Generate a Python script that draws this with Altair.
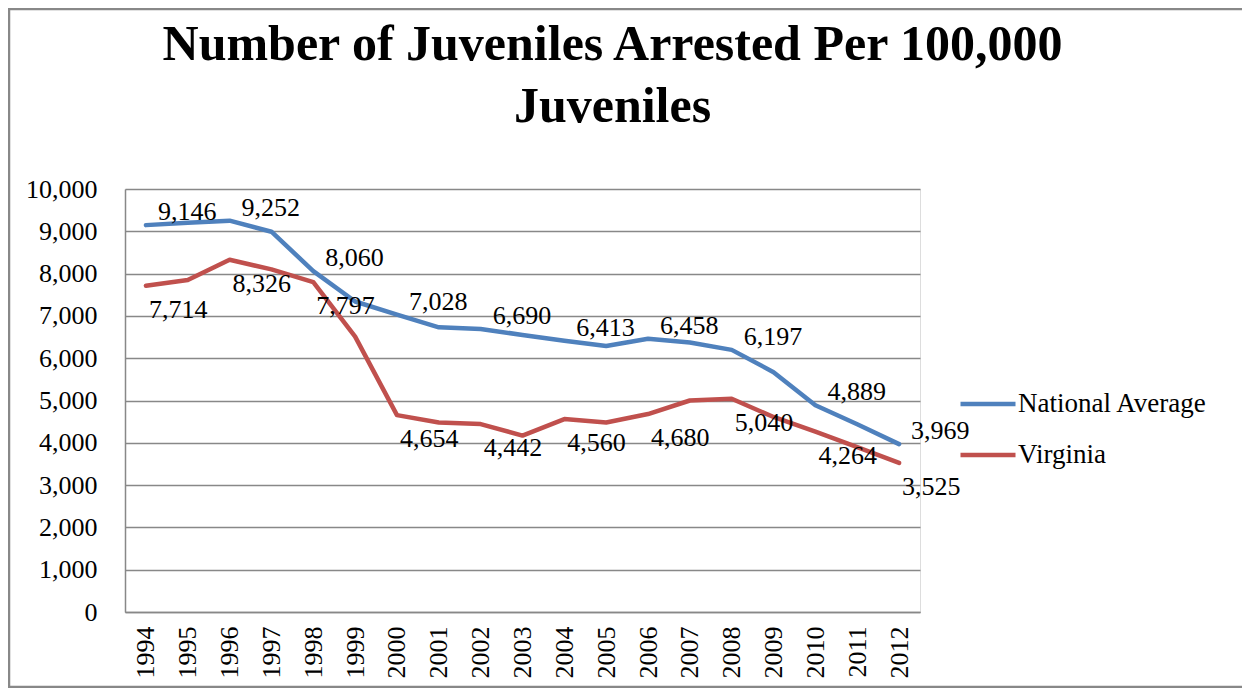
import altair as alt
import pandas as pd

years = [str(y) for y in range(1994, 2013)]
national = [9146, 9200, 9252, 8990, 8060, 7340, 7028, 6730, 6690, 6550,
            6413, 6290, 6458, 6370, 6197, 5670, 4889, 4440, 3969]
virginia = [7714, 7850, 8326, 8100, 7797, 6510, 4654, 4480, 4442, 4170,
            4560, 4480, 4680, 5000, 5040, 4610, 4264, 3900, 3525]
series_names = ["National Average", "Virginia"]
colors = ["#4F81BD", "#C0504D"]
y_ticks = list(range(0, 10001, 1000))

FONT = "Liberation Serif"
GRAY = "#888888"

rows = []
for i, yr in enumerate(years):
    rows.append({"Year": yr, "Series": series_names[0], "Value": national[i], "show": i % 2 == 0})
    rows.append({"Year": yr, "Series": series_names[1], "Value": virginia[i], "show": i % 2 == 0})
df = pd.DataFrame(rows)

W, H = 795, 423
PL, PT, PR, PB = 117, 181, 322, 76

x_enc = alt.X("Year:O", sort=years, scale=alt.Scale(type="point", padding=0.5),
              axis=alt.Axis(title=None, labelAngle=270, labelFontSize=26, labelFont=FONT,
                            labelColor="black", labelPadding=14, ticks=False, tickSize=0,
                            domainColor=GRAY, domainWidth=1.5, grid=False))
y_enc = alt.Y("Value:Q", scale=alt.Scale(domain=[0, 10000], nice=False),
              axis=alt.Axis(title=None, values=y_ticks, format=",.0f", labelFontSize=26,
                            labelFont=FONT, labelColor="black", labelPadding=28,
                            ticks=False, tickSize=0, domainColor=GRAY, domainWidth=1.5,
                            gridColor=GRAY, gridWidth=1.5))
color_enc = alt.Color("Series:N",
                      scale=alt.Scale(domain=series_names, range=colors),
                      legend=alt.Legend(title=None, orient="none", legendX=833, legendY=185,
                                        symbolType="stroke", symbolSize=3025,
                                        symbolStrokeWidth=4.5, labelFontSize=27,
                                        labelFont=FONT, labelColor="black", labelLimit=400,
                                        rowPadding=8, labelOffset=0, padding=0))

lines = alt.Chart(df).mark_line(strokeWidth=4.5, strokeCap="round", strokeJoin="round").encode(
    x=x_enc, y=y_enc, color=color_enc)

nat_labels = alt.Chart(df).transform_filter(
    (alt.datum.show == True) & (alt.datum.Series == series_names[0])
).mark_text(align="left", baseline="middle", dx=12, dy=-13, fontSize=26, font=FONT,
            color="black").encode(
    x=alt.X("Year:O", sort=years), y="Value:Q", text=alt.Text("Value:Q", format=","))

va_labels = alt.Chart(df).transform_filter(
    (alt.datum.show == True) & (alt.datum.Series == series_names[1])
).mark_text(align="left", baseline="middle", dx=3, dy=24, fontSize=26, font=FONT,
            color="black").encode(
    x=alt.X("Year:O", sort=years), y="Value:Q", text=alt.Text("Value:Q", format=","))

frame = alt.Chart(pd.DataFrame({"a": [0]})).mark_rect(
    fill=None, stroke=GRAY, strokeWidth=2.5).encode(
    x=alt.value(-PL + 1), x2=alt.value(W + PR + 10),
    y=alt.value(-PT + 1), y2=alt.value(H + PB - 1))

chart = alt.layer(frame, lines, nat_labels, va_labels).properties(
    width=W, height=H,
    padding={"left": PL, "top": PT, "right": PR, "bottom": PB},
    autosize=alt.AutoSizeParams(type="none"),
    title=alt.TitleParams(
        ["Number of Juveniles Arrested Per 100,000", "Juveniles"],
        font=FONT, fontSize=50, fontWeight="bold", color="black",
        anchor="middle", frame="group", dx=90, baseline="bottom",
        lineHeight=62, offset=-174),
).configure_view(strokeWidth=0).configure(background="white")

chart.save("out.html", embed_options={"renderer": "svg", "actions": False})
